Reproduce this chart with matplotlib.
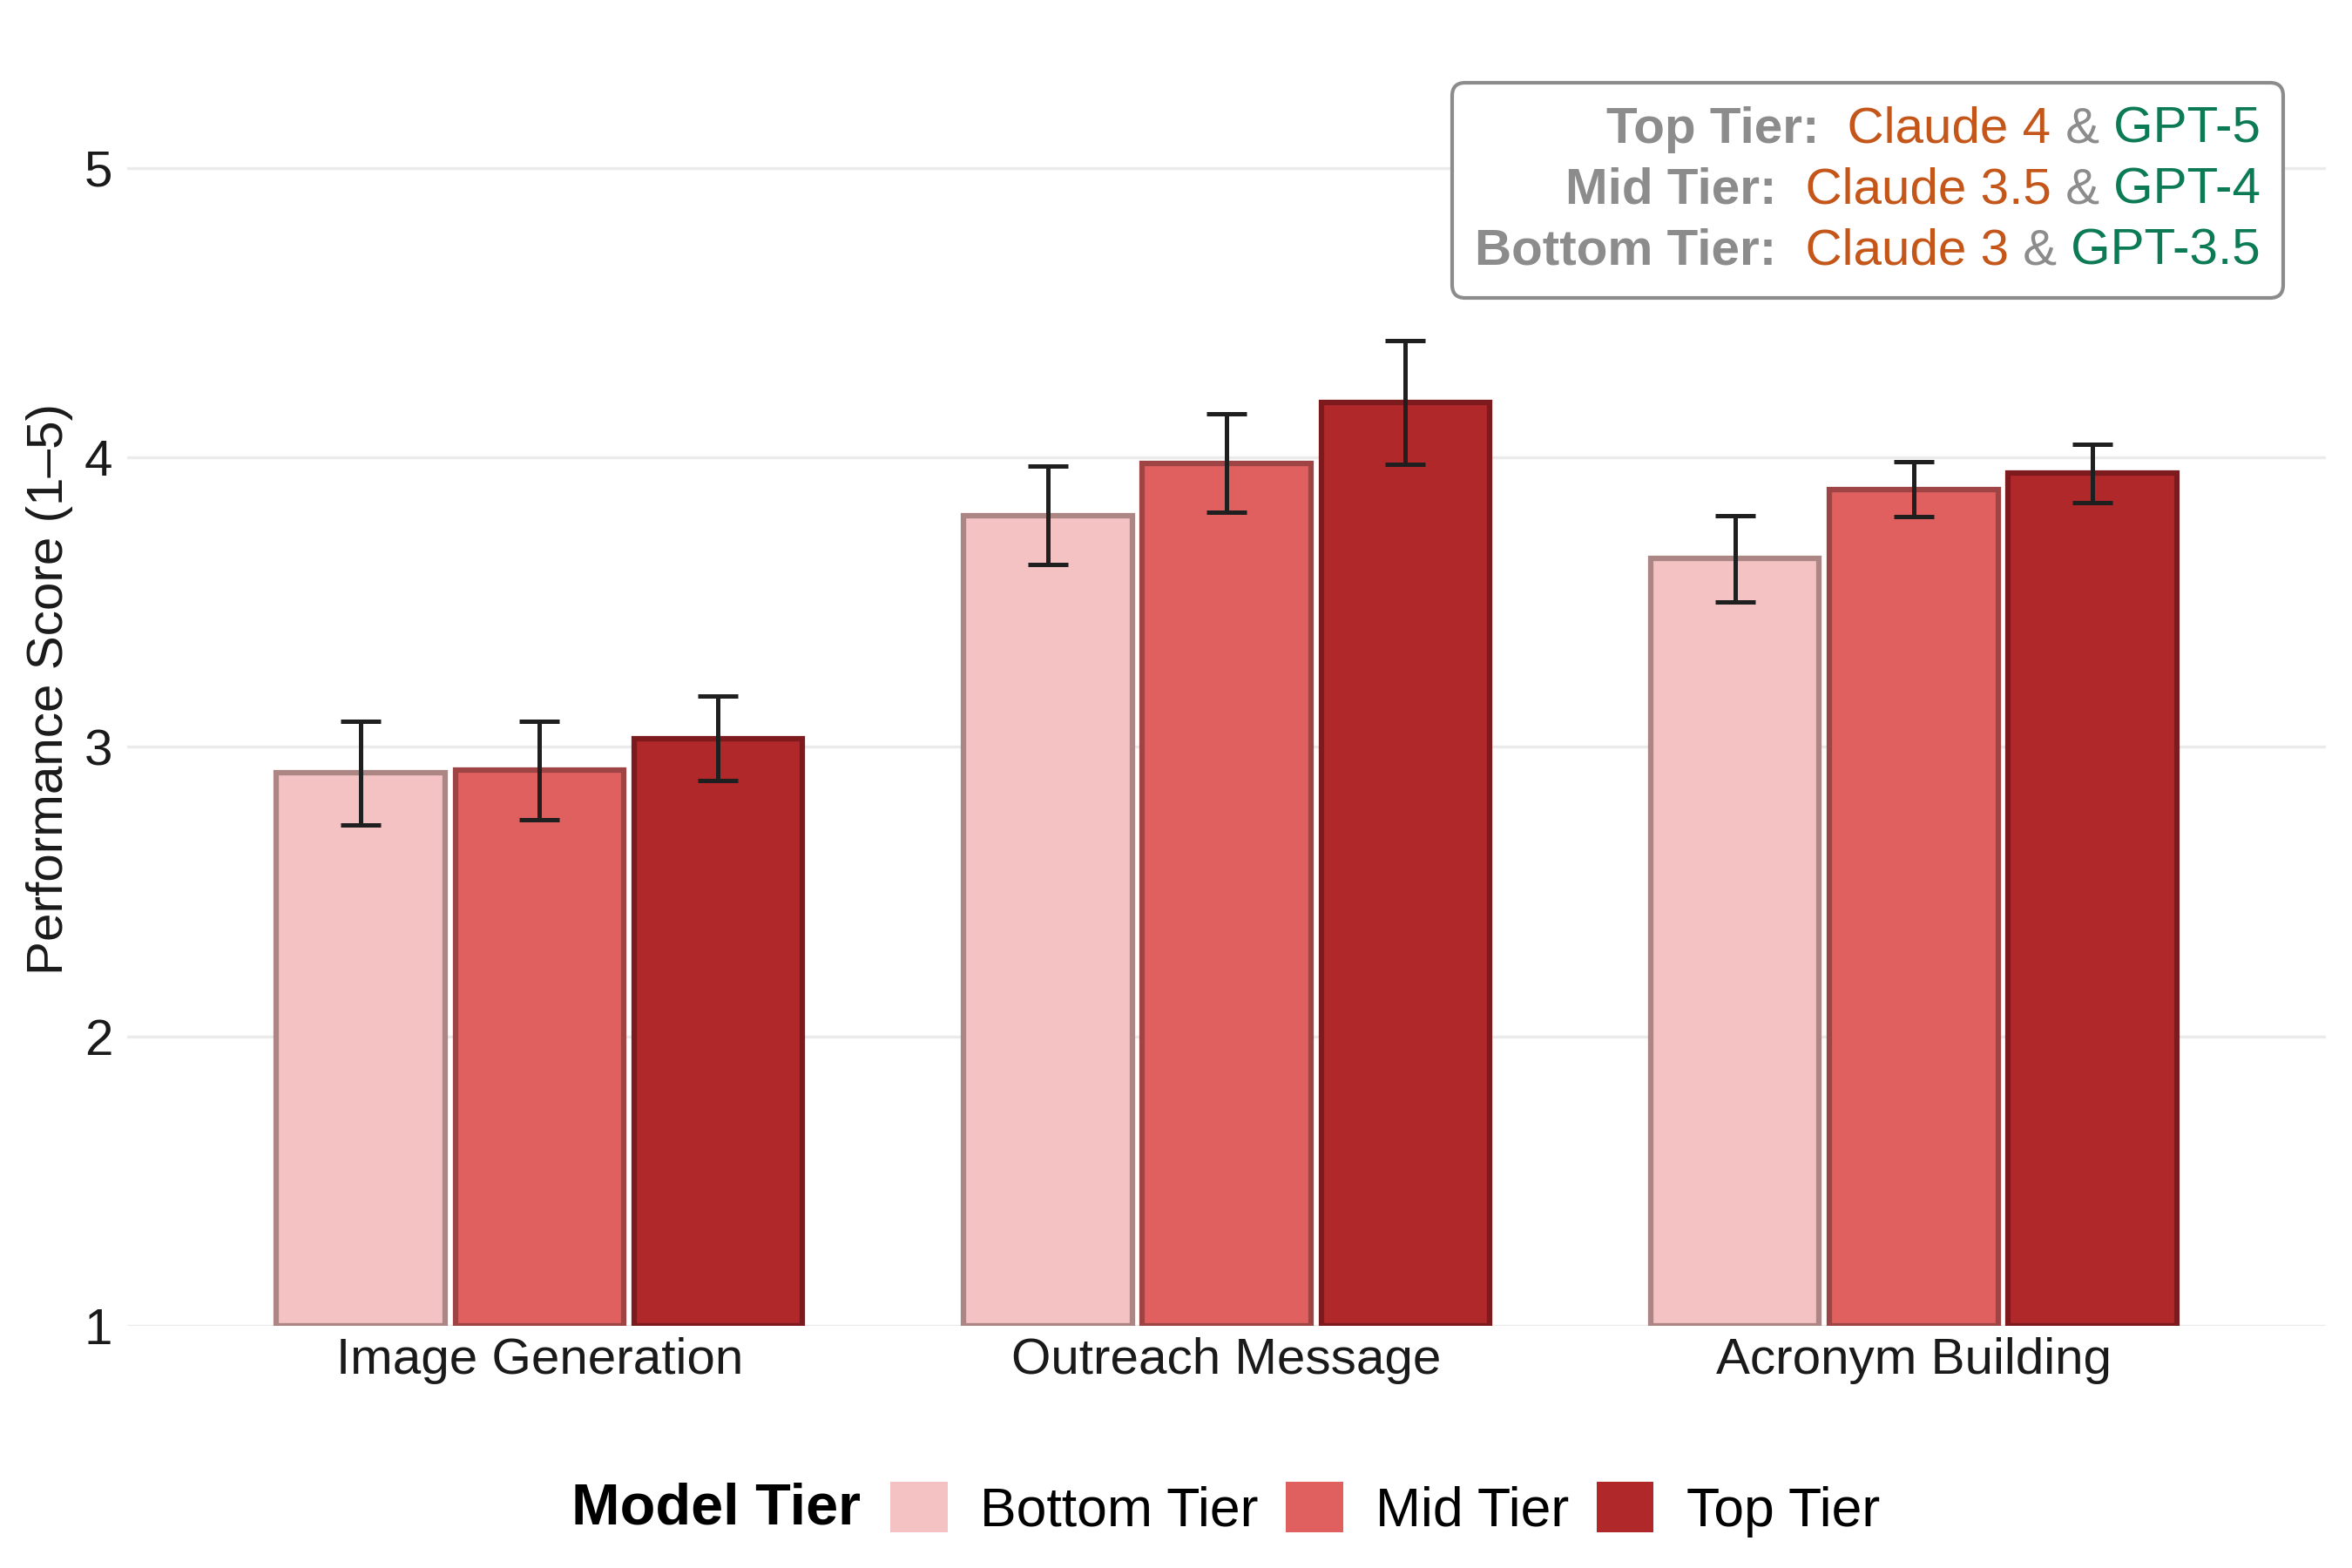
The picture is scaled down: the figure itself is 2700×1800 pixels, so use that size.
import matplotlib
matplotlib.use("Agg")
import matplotlib.pyplot as plt
import numpy as np
from matplotlib.patches import Patch
from matplotlib.offsetbox import TextArea, HPacker, VPacker, AnchoredOffsetbox

plt.rcParams['font.family'] = ['Liberation Sans', 'DejaVu Sans']

# --- Data
categories = ["Image Generation", "Outreach Message", "Acronym Building"]
tiers = ["Bottom Tier", "Mid Tier", "Top Tier"]
bottom_scores = [2.91, 3.80, 3.65]
bottom_err = [0.18, 0.17, 0.15]
mid_scores = [2.92, 3.98, 3.89]
mid_err = [0.17, 0.17, 0.095]
top_scores = [3.03, 4.19, 3.945]
top_err = [0.145, 0.215, 0.10]

fill_colors = ["#f4c2c2", "#e06060", "#b0282a"]
edge_colors = ["#ac8585", "#9e4444", "#7d1a1d"]

# model names shown in the corner box (tier label, claude, gpt)
box_lines = [("Top Tier:", "Claude 4", "GPT-5"),
             ("Mid Tier:", "Claude 3.5", "GPT-4"),
             ("Bottom Tier:", "Claude 3", "GPT-3.5")]

grey = "#8c8c8c"
orange = "#c4561a"
green = "#0b7a55"

scores = [bottom_scores, mid_scores, top_scores]
errs = [bottom_err, mid_err, top_err]

fig = plt.figure(figsize=(9, 6), dpi=300)
ax = fig.add_axes([0.054, 0.1544, 0.935, 0.8123])

x = np.arange(len(categories))
offsets = [-0.26, 0.0, 0.26]
width = 0.245

for i in range(3):
    ax.bar(x + offsets[i], np.array(scores[i]) - 1, width, bottom=1,
           color=fill_colors[i], edgecolor=edge_colors[i], linewidth=1.5,
           zorder=2)
    ax.errorbar(x + offsets[i], scores[i], yerr=errs[i], fmt='none',
                ecolor="#1f1f1f", elinewidth=1.2, capsize=5.5, capthick=1.2,
                zorder=3)

ax.set_ylim(1, 5.4)
ax.set_xlim(-0.6, 2.6)
ax.set_yticks([1, 2, 3, 4, 5])
ax.set_xticks(x)
ax.set_xticklabels(categories, fontsize=14)
ax.tick_params(axis='y', labelsize=14, length=0, pad=4, colors="#1a1a1a")
ax.tick_params(axis='x', length=0, pad=3, colors="#1a1a1a")
ax.set_ylabel("Performance Score (1–5)", fontsize=14, labelpad=3, color="#1a1a1a")
ax.grid(axis='y', color="#ebebeb", linewidth=0.8, zorder=0)
ax.set_axisbelow(True)
for s in ax.spines.values():
    s.set_visible(False)

# --- Legend at the bottom, title to the left
fig.text(0.243, 0.0373, "Model Tier", fontsize=16, fontweight='bold',
         ha='left', va='center')
handles = [Patch(facecolor=c, edgecolor='none') for c in fill_colors]
fig.legend(handles, tiers, loc='center left', bbox_to_anchor=(0.367, 0.0373),
           ncol=3, frameon=False, fontsize=15, borderpad=0,
           handlelength=1.05, handleheight=1.05, handletextpad=0.6,
           columnspacing=0.5)

# --- Model names box
rows = []
for label, claude, gpt in box_lines:
    parts = [TextArea(label, textprops=dict(color=grey, fontsize=14, fontweight='bold')),
             TextArea("  " + claude, textprops=dict(color=orange, fontsize=14)),
             TextArea(" &", textprops=dict(color=grey, fontsize=14)),
             TextArea(" " + gpt, textprops=dict(color=green, fontsize=14))]
    rows.append(HPacker(children=parts, align="baseline", pad=0, sep=0))
vbox = VPacker(children=rows, align="right", pad=0, sep=3.8)
anch = AnchoredOffsetbox(loc='upper right', child=vbox, pad=0.45, borderpad=0,
                         frameon=True, prop=dict(size=14),
                         bbox_to_anchor=(0.9707, 0.947),
                         bbox_transform=fig.transFigure)
anch.patch.set_boxstyle("round,pad=0,rounding_size=0.25")
anch.patch.set_edgecolor("#8c8c8c")
anch.patch.set_linewidth(1.0)
fig.add_artist(anch)

fig.savefig("out.png", dpi=300)
